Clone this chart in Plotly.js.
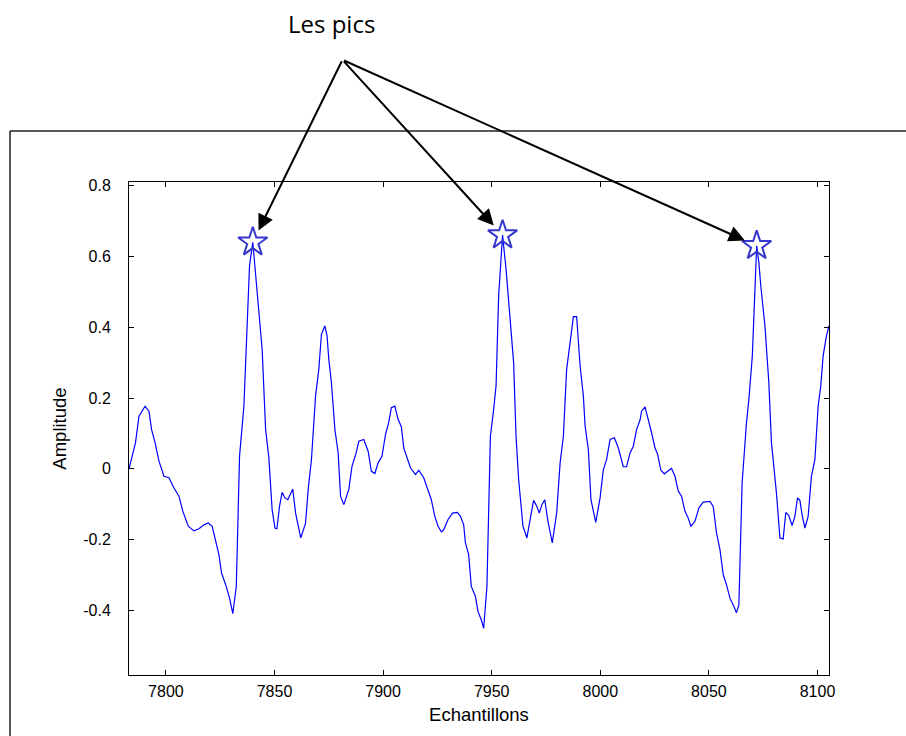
<!DOCTYPE html>
<html>
<head>
<meta charset="utf-8">
<script src="https://cdn.plot.ly/plotly-3.0.1.min.js"></script>
<style>html,body{margin:0;padding:0;background:#fff;}#chart{width:906px;height:736px;}</style>
</head>
<body>
<div id="chart"></div>
<script>
// Signal samples
const sampleX = [7783,7786,7787.6,7790.4,7792.2,7793.4,7795,7796.8,7799.1,7801.4,7803.7,7806,7807.8,7810.3,7812.9,7815.2,7817.5,7819.5,7821.3,7823.2,7824.4,7825.6,7827.5,7829.3,7830.8,7832.4,7833.9,7835.9,7837.4,7838.5,7840,7841.3,7842.8,7844.3,7845.9,7847.4,7848.9,7850.2,7851.1,7852.3,7853.5,7854.8,7856.1,7857.4,7858.4,7859.7,7860.9,7862.1,7864.3,7865.5,7867,7868.9,7870.4,7871.6,7873.2,7874.2,7875,7876.2,7877.8,7879.3,7880.4,7881.9,7884.2,7885.7,7887.6,7888.8,7891.1,7893.1,7894.6,7896.2,7897.7,7899.5,7901.1,7902.6,7903.8,7905.4,7906.9,7908.4,7909.5,7911,7912.6,7914.9,7916.4,7918.7,7920.2,7922.2,7923.8,7925.3,7926.8,7927.9,7929.9,7932,7934.2,7935.6,7937.1,7937.9,7939.4,7940.6,7942.5,7943.7,7945.2,7946.3,7947.8,7949.4,7950.9,7952,7953.2,7955,7956.6,7958.6,7960.1,7961.2,7962.4,7964.4,7966.2,7967.8,7969.3,7970.8,7971.9,7973.1,7974.4,7975.9,7977.9,7979.9,7981.5,7983,7984.5,7986.1,7987.6,7989.1,7990.7,7992.2,7993,7994.5,7995.7,7997.9,7999.9,8001.4,8002.9,8004.5,8006.5,8008.3,8010.6,8012.1,8013.7,8015.2,8016.7,8018.3,8019,8020.6,8022.1,8023.6,8025.2,8026.4,8027.9,8029.5,8031,8032.8,8034.4,8035.9,8037.4,8039,8040.5,8041.7,8043.6,8045.4,8047.4,8050.5,8052,8053.5,8055.1,8056.6,8058.1,8059.7,8061.2,8062.7,8063.8,8065.3,8067.3,8068.4,8070,8072,8073,8073.9,8075.8,8077.6,8078.8,8080.1,8081.1,8082.7,8084.2,8085.4,8086.8,8088.3,8089.6,8090.8,8091.9,8092.9,8094.2,8095.7,8097.2,8098.8,8100.3,8101.5,8102.6,8104.1,8105.3];
const sampleY = [0.000,0.074,0.149,0.177,0.163,0.111,0.074,0.022,-0.021,-0.025,-0.054,-0.077,-0.120,-0.162,-0.175,-0.169,-0.158,-0.153,-0.162,-0.214,-0.242,-0.294,-0.327,-0.365,-0.409,-0.332,0.036,0.177,0.394,0.574,0.640,0.555,0.440,0.338,0.111,0.031,-0.115,-0.167,-0.169,-0.106,-0.066,-0.082,-0.087,-0.068,-0.057,-0.125,-0.162,-0.195,-0.153,-0.058,0.026,0.206,0.281,0.380,0.404,0.375,0.309,0.243,0.111,0.045,-0.077,-0.101,-0.058,0.008,0.045,0.078,0.083,0.050,-0.007,-0.013,0.017,0.036,0.097,0.132,0.173,0.177,0.140,0.119,0.059,0.031,0.003,-0.016,-0.004,-0.025,-0.054,-0.087,-0.134,-0.162,-0.178,-0.172,-0.143,-0.125,-0.123,-0.134,-0.158,-0.209,-0.242,-0.332,-0.360,-0.403,-0.426,-0.450,-0.332,0.092,0.168,0.234,0.489,0.660,0.564,0.413,0.300,0.092,-0.030,-0.162,-0.195,-0.139,-0.089,-0.106,-0.125,-0.101,-0.087,-0.148,-0.209,-0.125,0.017,0.092,0.281,0.357,0.430,0.430,0.291,0.206,0.121,0.055,-0.087,-0.151,-0.082,-0.002,0.026,0.083,0.088,0.059,0.006,0.006,0.045,0.064,0.111,0.138,0.163,0.175,0.140,0.102,0.059,0.041,-0.004,-0.014,-0.007,0.001,-0.021,-0.063,-0.077,-0.120,-0.139,-0.162,-0.148,-0.110,-0.094,-0.092,-0.106,-0.181,-0.228,-0.299,-0.327,-0.365,-0.384,-0.406,-0.384,-0.040,0.130,0.196,0.319,0.630,0.583,0.517,0.404,0.243,0.074,-0.002,-0.068,-0.195,-0.198,-0.123,-0.132,-0.160,-0.134,-0.082,-0.089,-0.129,-0.167,-0.134,-0.021,0.026,0.177,0.234,0.319,0.375,0.404];

// Detected peaks
const peakX = [7840, 7955, 8072];
const peakY = [0.640, 0.660, 0.630];

// Axis ticks
const xTickVals = [7800, 7850, 7900, 7950, 8000, 8050, 8100];
const xTickText = ['7800', '7850', '7900', '7950', '8000', '8050', '8100'];
const yTickVals = [-0.4, -0.2, 0, 0.2, 0.4, 0.6, 0.8];
const yTickText = ['-0.4', '-0.2', '0', '0.2', '0.4', '0.6', '0.8'];

const annotationLabel = 'Les pics';
const xLabel = 'Echantillons';
const yLabel = 'Amplitude';

const tickFont = {family: 'Liberation Sans, Arial, sans-serif', size: 16, color: '#000'};
const titleFont = {family: 'Liberation Sans, Arial, sans-serif', size: 18.5, color: '#000'};

const traces = [
  {x: sampleX, y: sampleY, type: 'scatter', mode: 'lines',
   line: {color: '#0000ff', width: 1.2}, hoverinfo: 'skip', showlegend: false},
  {x: peakX, y: peakY, type: 'scatter', mode: 'markers',
   marker: {symbol: 'star-open', size: 22, color: 'rgb(55,55,205)', line: {width: 2, color: 'rgb(55,55,205)'}},
   hoverinfo: 'skip', showlegend: false, cliponaxis: false}
];

const arrowTail = {x: 7881.3, y: 1.155};
const annotations = peakX.map((px, i) => ({
  x: px, y: peakY[i], xref: 'x', yref: 'y',
  ax: arrowTail.x, ay: arrowTail.y, axref: 'x', ayref: 'y',
  text: '', showarrow: true, arrowhead: 2, arrowsize: 1.6, arrowwidth: 2,
  arrowcolor: '#000', standoff: 13
}));
annotations.push({
  x: 0.2886, y: 1.3205, xref: 'paper', yref: 'paper', text: annotationLabel,
  showarrow: false, xanchor: 'center', yanchor: 'middle',
  font: {family: 'Open Sans, Noto Sans, sans-serif', size: 24, color: '#000'}
});

const layout = {
  width: 906, height: 736,
  margin: {l: 129, r: 77, t: 182, b: 61, pad: 0},
  paper_bgcolor: '#fff', plot_bgcolor: '#fff',
  showlegend: false,
  xaxis: {
    range: [7783, 8105.3], tickmode: 'array', tickvals: xTickVals, ticktext: xTickText,
    ticks: 'inside', ticklen: 5, tickcolor: '#000', tickwidth: 1,
    showline: true, linecolor: '#000', linewidth: 1, mirror: 'allticks',
    showgrid: false, zeroline: false, tickfont: tickFont, ticklabelstandoff: 2,
    title: {text: xLabel, font: titleFont, standoff: 8}
  },
  yaxis: {
    range: [-0.582, 0.81], tickmode: 'array', tickvals: yTickVals, ticktext: yTickText,
    ticks: 'inside', ticklen: 5, tickcolor: '#000', tickwidth: 1,
    showline: true, linecolor: '#000', linewidth: 1, mirror: 'allticks',
    showgrid: false, zeroline: false, tickfont: tickFont, ticklabelstandoff: 14,
    title: {text: yLabel, font: titleFont, standoff: 11}
  },
  annotations: annotations,
  shapes: [
    {type: 'line', xref: 'paper', yref: 'paper', x0: -0.17, x1: -0.17, y0: 1.1035, y1: -0.14,
     line: {color: '#222', width: 1.5}},
    {type: 'line', xref: 'paper', yref: 'paper', x0: -0.17, x1: 1.12, y0: 1.1035, y1: 1.1035,
     line: {color: '#222', width: 1.5}}
  ]
};

Plotly.newPlot('chart', traces, layout, {displayModeBar: false, staticPlot: true});
</script>
</body>
</html>
